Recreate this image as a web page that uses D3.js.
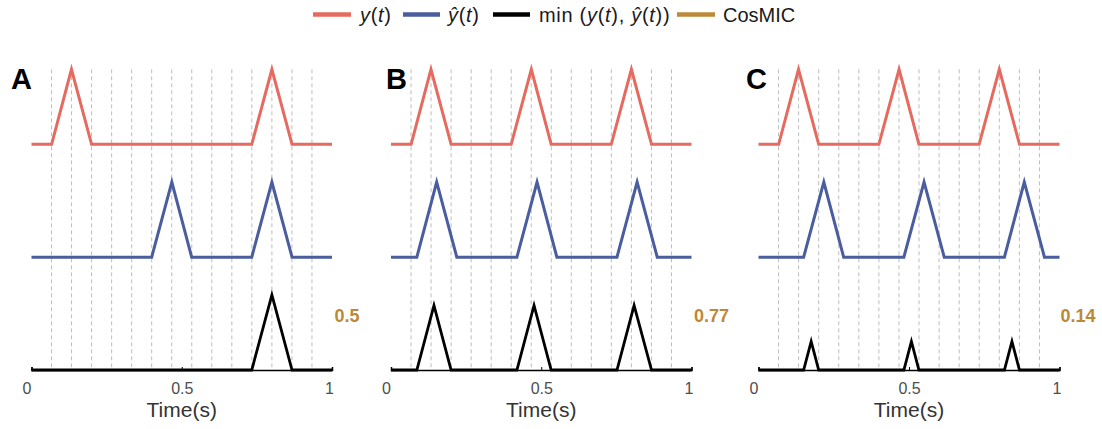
<!DOCTYPE html>
<html>
<head>
<meta charset="utf-8">
<script src="https://cdn.jsdelivr.net/npm/d3@7"></script>
<style>
  body { margin: 0; background: #fff; }
  svg { display: block; font-family: "Liberation Sans", Arial, sans-serif; }
</style>
</head>
<body>
<svg id="chart"></svg>
<script>
// pannelli e valori CosMIC
const panels = ["A", "B", "C"];
const cosmicValues = [0.5, 0.77, 0.14];

// linee verticali tratteggiate (secondi)
const gridTimes = [0.0667, 0.1333, 0.2, 0.2667, 0.3333, 0.4, 0.4667,
                   0.5333, 0.6, 0.6667, 0.7333, 0.8, 0.8667, 0.9333];
const tickValues = [0, 0.5, 1];

// y(t): [tempo, valore]
const yTrueA = [[0,0],[0.067,0],[0.133,1],[0.2,0],[0.733,0],[0.8,1],[0.867,0],[1,0]];
const yTrueB = [[0,0],[0.067,0],[0.133,1],[0.2,0],[0.4,0],[0.467,1],[0.533,0],[0.733,0],[0.8,1],[0.867,0],[1,0]];
const yTrueC = [[0,0],[0.067,0],[0.133,1],[0.2,0],[0.4,0],[0.467,1],[0.533,0],[0.733,0],[0.8,1],[0.867,0],[1,0]];

// ŷ(t)
const yHatA = [[0,0],[0.4,0],[0.467,1],[0.533,0],[0.733,0],[0.8,1],[0.867,0],[1,0]];
const yHatB = [[0,0],[0.086,0],[0.152,1],[0.219,0],[0.419,0],[0.486,1],[0.552,0],[0.752,0],[0.819,1],[0.886,0],[1,0]];
const yHatC = [[0,0],[0.15,0],[0.217,1],[0.283,0],[0.483,0],[0.55,1],[0.617,0],[0.817,0],[0.883,1],[0.95,0],[1,0]];

// min(y(t), ŷ(t))
const minA = [[0,0],[0.733,0],[0.8,1],[0.867,0],[1,0]];
const minB = [[0,0],[0.086,0],[0.143,0.86],[0.2,0],[0.419,0],[0.476,0.86],[0.533,0],[0.752,0],[0.809,0.86],[0.867,0],[1,0]];
const minC = [[0,0],[0.15,0],[0.175,0.38],[0.2,0],[0.483,0],[0.508,0.38],[0.533,0],[0.817,0],[0.842,0.38],[0.867,0],[1,0]];

const series = [
  [yTrueA, yHatA, minA],
  [yTrueB, yHatB, minB],
  [yTrueC, yHatC, minC]
];

const colors = { y: "#E56A5F", yhat: "#4A5D9E", min: "#000000", cosmic: "#BD8838" };
const rowColors = [colors.y, colors.yhat, colors.min];

const width = 1102, height = 429;
const svg = d3.select("#chart").attr("width", width).attr("height", height);

// posizione orizzontale dei pannelli
const panelRanges = [[31.5, 332], [391, 691.5], [758.5, 1059.5]];
// righe: baseline di ogni traccia
const rowScale = d3.scalePoint().domain([0, 1, 2]).range([144.3, 370]);
const yScale = d3.scaleLinear().domain([0, 1]).range([0, -75]);

panels.forEach((name, i) => {
  const x = d3.scaleLinear().domain([0, 1]).range(panelRanges[i]);
  const g = svg.append("g").attr("class", "panel");

  // griglia tratteggiata
  g.selectAll("line.grid")
    .data(gridTimes)
    .enter()
    .append("line")
      .attr("class", "grid")
      .attr("x1", d => x(d)).attr("x2", d => x(d))
      .attr("y1", rowScale(0) + yScale(1)).attr("y2", rowScale(2))
      .attr("stroke", "#bdbdbd")
      .attr("stroke-width", 1)
      .attr("stroke-dasharray", "4,3");

  // asse x
  const axis = g.append("g")
    .attr("transform", `translate(0,${rowScale(2)})`)
    .call(d3.axisBottom(x).tickValues(tickValues)
      .tickFormat(d3.format("")).tickSize(-3).tickSizeOuter(-3).tickPadding(13));
  axis.select(".domain").attr("stroke", "#000").attr("stroke-width", 1.5);
  axis.selectAll(".tick line").attr("stroke", "#000");
  axis.selectAll(".tick text")
    .attr("font-size", 16)
    .attr("fill", "#4d4d4d")
    .attr("font-family", "Liberation Sans, Arial, sans-serif")
    .attr("dx", d => d === 0 ? -5 : (d === 1 ? -3 : 0));

  g.append("text")
    .attr("x", (panelRanges[i][0] + panelRanges[i][1]) / 2)
    .attr("y", 417)
    .attr("text-anchor", "middle")
    .attr("font-size", 21)
    .attr("fill", "#333")
    .text("Time(s)");

  // tracce
  series[i].forEach((pts, r) => {
    const line = d3.line()
      .x(d => x(d[0]))
      .y(d => rowScale(r) + yScale(d[1]));
    g.append("path")
      .datum(pts)
      .attr("d", line)
      .attr("fill", "none")
      .attr("stroke", rowColors[r])
      .attr("stroke-width", r === 2 ? 2.8 : 3)
      .attr("stroke-linejoin", "miter");
  });

  // lettera del pannello
  g.append("text")
    .attr("x", [11, 386, 746][i])
    .attr("y", 89)
    .attr("font-size", 29)
    .attr("font-weight", "bold")
    .attr("fill", "#000")
    .text(name);

  // valore CosMIC
  g.append("text")
    .attr("x", [347, 711.5, 1078][i])
    .attr("y", 321.5)
    .attr("text-anchor", "middle")
    .attr("font-size", 18)
    .attr("font-weight", "bold")
    .attr("fill", colors.cosmic)
    .text(cosmicValues[i]);
});

// legenda
const legendItems = [
  { color: colors.y, x0: 313, x1: 351, tx: 360, math: true,
    parts: [["y", true], ["(", false], ["t", true], [")", false]] },
  { color: colors.yhat, x0: 403, x1: 440, tx: 448, math: true,
    parts: [["ŷ", true], ["(", false], ["t", true], [")", false]] },
  { color: colors.min, x0: 493, x1: 530, tx: 539, math: true,
    parts: [["min (", false], ["y", true], ["(", false], ["t", true], ["), ", false],
            ["ŷ", true], ["(", false], ["t", true], ["))", false]] },
  { color: colors.cosmic, x0: 677, x1: 715, tx: 723, math: false, parts: [["CosMIC", false]] }
];

const legend = svg.append("g").attr("class", "legend");
legendItems.forEach(it => {
  legend.append("line")
    .attr("x1", it.x0).attr("x2", it.x1)
    .attr("y1", 14.5).attr("y2", 14.5)
    .attr("stroke", it.color)
    .attr("stroke-width", 4.5);
  const t = legend.append("text")
    .attr("x", it.tx)
    .attr("y", 21.5)
    .attr("font-size", 20)
    .attr("letter-spacing", it.math ? 0.7 : 0)
    .attr("fill", "#1a1a1a")
    .attr("xml:space", "preserve");
  it.parts.forEach(p => {
    t.append("tspan")
      .attr("font-style", p[1] ? "italic" : "normal")
      .text(p[0]);
  });
});
</script>
</body>
</html>
